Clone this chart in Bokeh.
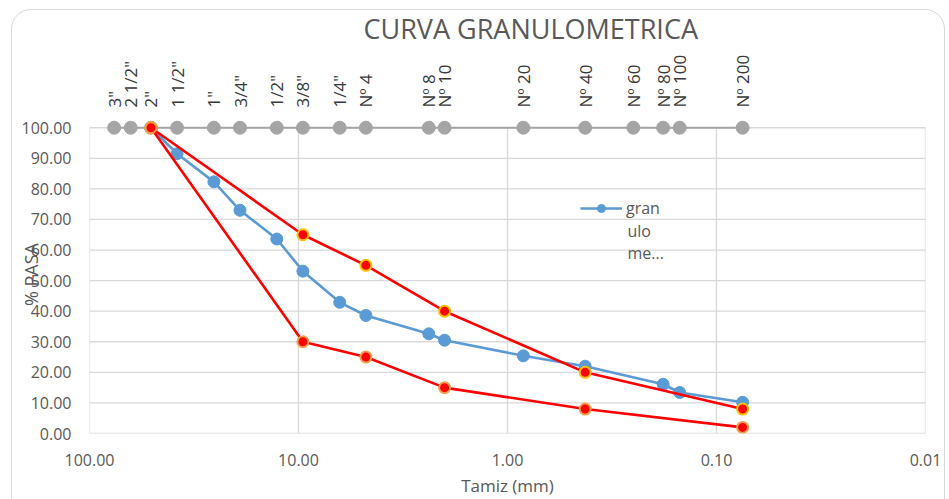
import math
from bokeh.plotting import figure
from bokeh.models import (Range1d, FixedTicker, PrintfTickFormatter, Label,
                          Legend, LegendItem, LogAxis, InlineStyleSheet)
from bokeh.embed import file_html
from bokeh.resources import INLINE

# ---------------- data ----------------
sieve_labels = ['3"', '2 1/2"', '2"', '1 1/2"', '1"', '3/4"', '1/2"', '3/8"', '1/4"',
                'Nº 4', 'Nº 8', 'Nº 10', 'Nº 20', 'Nº 40', 'Nº 60', 'Nº 80', 'Nº 100', 'Nº 200']
sieve_mm = [76.2, 63.5, 50.8, 38.1, 25.4, 19.05, 12.7, 9.525, 6.35,
            4.76, 2.38, 2.0, 0.84, 0.425, 0.25, 0.18, 0.15, 0.075]
sieve_ref = [100, 100, 100, 100, 100, 100, 100, 100, 100,
             100, 100, 100, 100, 100, 100, 100, 100, 100]

curve_mm = [50.8, 38.1, 25.4, 19.05, 12.7, 9.525, 6.35, 4.76, 2.38, 2.0,
            0.84, 0.425, 0.18, 0.15, 0.075]
curve_pass = [100.0, 91.5, 82.3, 73.0, 63.6, 53.1, 42.9, 38.6, 32.6, 30.5,
              25.4, 22.0, 16.1, 13.4, 10.2]

band_mm = [50.8, 9.525, 4.76, 2.0, 0.425, 0.075]
upper_pass = [100, 65, 55, 40, 20, 8]
lower_pass = [100, 30, 25, 15, 8, 2]

x_ticks = [100, 10, 1, 0.1, 0.01]
y_ticks = [0, 10, 20, 30, 40, 50, 60, 70, 80, 90, 100]

title_text = "CURVA GRANULOMETRICA"
x_title = "Tamiz (mm)"
y_title = "% PASA"
legend_words = ["gran", "ulo", "me..."]

FONT = "Open Sans"
GRID = "#d9d9d9"
TXT = "#595959"

frame_css = InlineStyleSheet(css="""
:host { position: relative; overflow: hidden; }
:host::after {
  content: ""; position: absolute; left: 11px; top: 9px; width: 934px; height: 520px;
  border: 1.5px solid #d9d9d9; border-radius: 20px; box-sizing: border-box;
  pointer-events: none;
}
""")

p = figure(width=949, height=499, x_axis_type="log",
           x_range=Range1d(x_ticks[0], x_ticks[-1]),
           y_range=Range1d(y_ticks[0], 104),
           output_backend="svg", toolbar_location=None,
           min_border_left=89, min_border_right=24,
           min_border_top=115, min_border_bottom=65,
           stylesheets=[frame_css])
p.outline_line_color = None
p.background_fill_color = "white"
p.border_fill_color = "white"
p.grid.grid_line_color = None

# title
p.title.text = title_text
p.title.align = "left"
p.title.offset = 274
p.title.text_font = FONT
p.title.text_font_size = "27px"
p.title.text_font_style = "normal"
p.title.text_color = TXT

for ax in (p.xaxis[0], p.yaxis[0]):
    ax.axis_line_color = None
    ax.major_tick_line_color = None
    ax.minor_tick_line_color = None
    ax.major_tick_out = 0
    ax.major_tick_in = 0
    ax.minor_tick_out = 0
    ax.major_label_text_font = FONT
    ax.major_label_text_font_size = "16px"
    ax.major_label_text_color = TXT
    ax.axis_label_text_font = FONT
    ax.axis_label_text_font_style = "normal"
    ax.axis_label_text_color = TXT
p.xaxis.major_label_standoff = 20
p.yaxis.major_label_standoff = 18
p.xaxis.ticker = FixedTicker(ticks=x_ticks)
p.yaxis.ticker = FixedTicker(ticks=y_ticks)
p.xaxis.formatter = PrintfTickFormatter(format="%.2f")
p.yaxis.formatter = PrintfTickFormatter(format="%.2f")
p.xaxis.axis_label = x_title
p.xaxis.axis_label_text_font_size = "17px"
p.xaxis.axis_label_standoff = 5
p.yaxis.axis_label = y_title
p.yaxis.axis_label_text_font_size = "18px"
p.yaxis.axis_label_standoff = -24

# sieve names on a top axis
sieve_axis = LogAxis(ticker=FixedTicker(ticks=sieve_mm),
                     major_label_overrides=dict(zip(sieve_mm, sieve_labels)),
                     major_label_orientation="vertical",
                     axis_line_color=None, major_tick_line_color=None,
                     minor_tick_line_color=None, major_tick_out=0, major_tick_in=0,
                     minor_tick_out=0, major_label_standoff=8,
                     major_label_text_font=FONT, major_label_text_font_size="17px",
                     major_label_text_color="#383838")
p.add_layout(sieve_axis, "above")

# gridlines limited to the 0-100 / 100-0.01 box
p.segment(x0=[x_ticks[0]] * len(y_ticks), x1=[x_ticks[-1]] * len(y_ticks),
          y0=y_ticks, y1=y_ticks, line_color=GRID, line_width=1.3, level="underlay")
p.segment(x0=x_ticks, x1=x_ticks, y0=[y_ticks[0]] * len(x_ticks),
          y1=[y_ticks[-1]] * len(x_ticks), line_color=GRID, line_width=1.3, level="underlay")

# sieve reference series (grey dots at 100 %)
p.line(sieve_mm, sieve_ref, line_color="#a5a5a5", line_width=2)
p.scatter(sieve_mm, sieve_ref, size=13, fill_color="#a5a5a5", line_color="#a5a5a5")

# granulometric curve
bl = p.line(curve_mm, curve_pass, line_color="#5b9bd5", line_width=2.6)
bs = p.scatter(curve_mm, curve_pass, size=12, fill_color="#5b9bd5", line_color="#5b9bd5")

# envelope limits
p.line(band_mm, upper_pass, line_color="#ff0000", line_width=2.6)
p.scatter(band_mm, upper_pass, size=11, fill_color="#ff0000", line_color="#ffc000", line_width=2)
p.line(band_mm, lower_pass, line_color="#ff0000", line_width=2.6)
p.scatter(band_mm, lower_pass, size=11, fill_color="#ff0000", line_color="#f4a04a", line_width=2)

# legend
leg = Legend(items=[LegendItem(label=legend_words[0], renderers=[bl, bs])],
             location=(491, 214), padding=0, margin=0, spacing=0,
             glyph_width=42, glyph_height=20, label_height=20, label_standoff=4,
             border_line_color=None, background_fill_alpha=0,
             label_text_font=FONT, label_text_font_size="16px", label_text_color=TXT)
p.add_layout(leg)
for i, w in enumerate(legend_words[1:]):
    p.add_layout(Label(x=0.2667, y=66.2 - 7.2 * i, text=w, text_align="left",
                       text_baseline="middle", text_font=FONT, text_font_size="16px",
                       text_color=TXT))

open("out.html", "w").write(file_html(p, INLINE))
